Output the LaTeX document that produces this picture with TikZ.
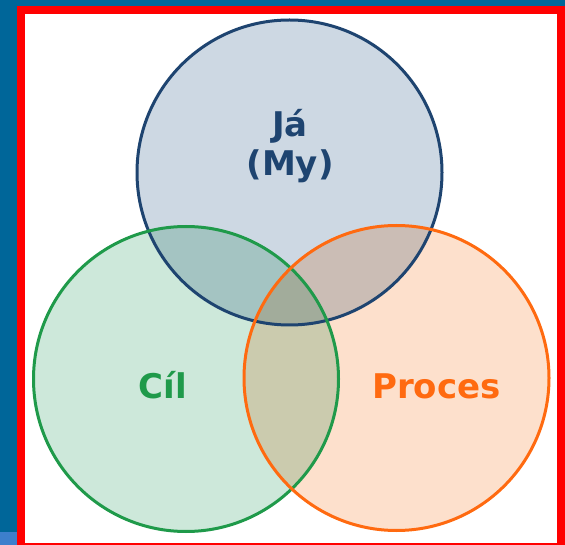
\documentclass[tikz,border=0pt]{standalone}
\usepackage{fontspec}
\setmainfont{DejaVu Sans}
\definecolor{bgblue}{HTML}{006699}
\definecolor{lightblue}{HTML}{3D7FCC}
\definecolor{framered}{HTML}{FF0000}
\definecolor{topfill}{HTML}{CDD8E3}
\definecolor{topline}{HTML}{1E4470}
\definecolor{leftfill}{HTML}{CDE8DA}
\definecolor{leftline}{HTML}{1F9A4A}
\definecolor{rightfill}{HTML}{FDE0CC}
\definecolor{rightline}{HTML}{FF6A10}
\tikzset{
  venn/.style={circle, minimum size=305pt, inner sep=0pt, outer sep=0pt},
  vfill/.style={blend mode=multiply},
  vline/.style={line width=3pt},
  lbl/.style={anchor=base, inner sep=0pt, font=\fontsize{34}{40}\selectfont\bfseries},
}
\begin{document}
\begin{tikzpicture}[x=1pt, y=-1pt]
  % background and frame
  \fill[bgblue] (0,0) rectangle (565,545);
  \fill[lightblue] (0,532) rectangle (17,545);
  \fill[framered] (17,6) rectangle (565,545);
  \fill[white] (25,14) rectangle (557,543);
  \useasboundingbox (0,0) rectangle (565,545);
  % circles (fills)
  \node[venn, fill=topfill, vfill] (top) at (289.5,172.5) {};
  \node[venn, fill=leftfill, vfill] (left) at (186,379) {};
  \node[venn, fill=rightfill, vfill] (right) at (396.5,378) {};
  % circle outlines
  \draw[vline, topline] (top.center) circle[radius=152.5pt];
  \draw[vline, leftline] (left.center) circle[radius=152.5pt];
  \draw[vline, rightline] (right.center) circle[radius=152.5pt];
  % labels
  \node[lbl, text=topline] (ja) at (290,137) {Já};
  \node[lbl, text=topline] (my) at (290,176) {(My)};
  \node[lbl, text=leftline] (cil) at (163,398) {Cíl};
  \node[lbl, text=rightline] (proces) at (436.5,398) {Proces};
\end{tikzpicture}
\end{document}
